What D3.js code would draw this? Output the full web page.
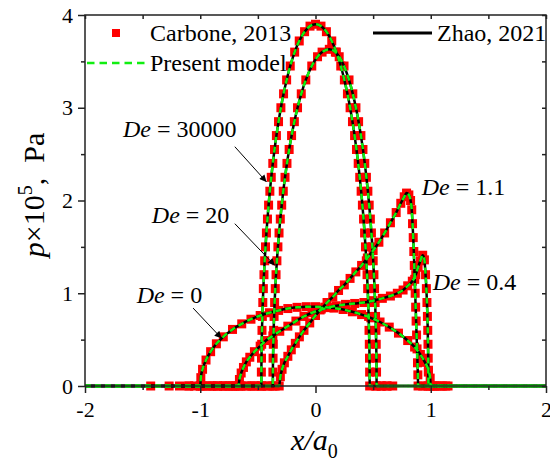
<!DOCTYPE html>
<meta charset="utf-8">
<style>
body { margin: 0; background: #fff; }
svg, svg text { font-family: "Liberation Serif", "Times New Roman", "DejaVu Serif", serif; }
text { white-space: pre; }
.tick line { stroke: #222; stroke-width: 1.5; }
.domain { display: none; }
</style>
<body>
<script src="https://d3js.org/d3.v7.min.js"></script>
<script>

// pressure profiles p(x), one array per Deborah number
// each entry is [x/a0, p x 1e-5 Pa]
var deNames = ["0", "0.4", "1.1", "20", "30000"];

var de0 = [[-1.43,0],[-1.27,0],[-1.18,0],[-1.1,0],[-1.05,0],[-1.0,0],[-0.995,0.09],[-0.98,0.18],
  [-0.95,0.28],[-0.91,0.37],[-0.86,0.455],[-0.80,0.53],[-0.72,0.61],[-0.64,0.67],[-0.56,0.72],
  [-0.48,0.76],[-0.40,0.79],[-0.32,0.815],[-0.24,0.835],[-0.16,0.848],[-0.08,0.855],[0,0.855],
  [0.08,0.85],[0.16,0.84],[0.24,0.825],[0.32,0.80],[0.40,0.77],[0.48,0.735],[0.56,0.69],
  [0.64,0.635],[0.72,0.57],[0.80,0.49],[0.86,0.42],[0.91,0.34],[0.95,0.255],[0.98,0.17],
  [0.995,0.085],[1.0,0],[1.05,0],[1.1,0],[1.15,0]];

var de04 = [[-1.1,0],[-1.0,0],[-0.92,0],[-0.85,0],[-0.78,0],[-0.72,0],[-0.67,0],[-0.66,0.07],
  [-0.645,0.14],[-0.625,0.2],[-0.6,0.26],[-0.57,0.31],[-0.53,0.37],[-0.48,0.43],[-0.43,0.49],
  [-0.37,0.54],[-0.31,0.59],[-0.24,0.645],[-0.17,0.70],[-0.10,0.75],[-0.03,0.79],[0.04,0.82],
  [0.11,0.845],[0.18,0.865],[0.26,0.88],[0.34,0.89],[0.42,0.90],[0.50,0.92],[0.58,0.945],
  [0.65,0.97],[0.71,1.0],[0.76,1.035],[0.80,1.08],[0.84,1.13],[0.87,1.2],[0.89,1.28],
  [0.91,1.35],[0.93,1.41],[0.945,1.36],[0.955,1.2],[0.962,1.05],[0.967,0.9],[0.971,0.75],
  [0.974,0.6],[0.976,0.45],[0.978,0.3],[0.979,0.15],[0.98,0],[1.03,0],[1.08,0],[1.13,0]];

var de11 = [[-0.98,0],[-0.88,0],[-0.8,0],[-0.72,0],[-0.64,0],[-0.56,0],[-0.48,0],[-0.4,0],
  [-0.35,0],[-0.315,0],[-0.305,0.1],[-0.29,0.18],[-0.27,0.25],[-0.24,0.32],[-0.21,0.39],
  [-0.175,0.46],[-0.14,0.53],[-0.10,0.6],[-0.05,0.68],[0,0.76],[0.05,0.83],[0.1,0.9],
  [0.15,0.96],[0.2,1.03],[0.25,1.09],[0.3,1.16],[0.35,1.23],[0.4,1.3],[0.45,1.38],[0.5,1.46],
  [0.55,1.55],[0.6,1.65],[0.65,1.76],[0.7,1.87],[0.74,1.97],[0.77,2.04],[0.79,2.08],
  [0.81,2.06],[0.825,2.0],[0.835,1.9],[0.842,1.75],[0.848,1.6],[0.853,1.45],[0.857,1.3],
  [0.861,1.15],[0.865,1.0],[0.869,0.85],[0.873,0.7],[0.877,0.55],[0.881,0.4],[0.885,0.25],
  [0.888,0.12],[0.89,0],[0.93,0],[0.97,0],[1.02,0]];

var de20 = [[-0.95,0],[-0.85,0],[-0.75,0],[-0.65,0],[-0.55,0],[-0.47,0],[-0.42,0],[-0.37,0],
  [-0.3696,0.15],[-0.3683,0.3],[-0.3662,0.45],[-0.3633,0.6],[-0.3594,0.75],[-0.3547,0.9],
  [-0.3491,1.05],[-0.3424,1.2],[-0.3349,1.35],[-0.3262,1.5],[-0.3165,1.65],[-0.3055,1.8],
  [-0.2933,1.95],[-0.2797,2.1],[-0.2645,2.25],[-0.2476,2.4],[-0.2287,2.55],[-0.2075,2.7],
  [-0.1835,2.85],[-0.1559,3.0],[-0.1235,3.15],[-0.0841,3.3],[-0.0324,3.45],[0.0177,3.55],
  [0.0572,3.6],[0.12,3.63],[0.1726,3.6],[0.2056,3.55],[0.2475,3.45],[0.2908,3.3],[0.3238,3.15],
  [0.3508,3.0],[0.3739,2.85],[0.394,2.7],[0.4118,2.55],[0.4276,2.4],[0.4417,2.25],[0.4544,2.1],
  [0.4658,1.95],[0.476,1.8],[0.4852,1.65],[0.4934,1.5],[0.5006,1.35],[0.5069,1.2],[0.5125,1.05],
  [0.5172,0.9],[0.5212,0.75],[0.5244,0.6],[0.5268,0.45],[0.5286,0.3],[0.5297,0.15],[0.53,0],
  [0.57,0],[0.62,0],[0.67,0]];

var de30000 = [[-0.9,0],[-0.8,0],[-0.7,0],[-0.6,0],[-0.53,0],[-0.47,0],[-0.4697,0.15],
  [-0.4686,0.3],[-0.4669,0.45],[-0.4644,0.6],[-0.4612,0.75],[-0.4573,0.9],[-0.4526,1.05],
  [-0.4472,1.2],[-0.4409,1.35],[-0.4338,1.5],[-0.4259,1.65],[-0.4169,1.8],[-0.407,1.95],
  [-0.396,2.1],[-0.3839,2.25],[-0.3705,2.4],[-0.3556,2.55],[-0.3392,2.7],[-0.3208,2.85],
  [-0.3003,3.0],[-0.2771,3.15],[-0.2505,3.3],[-0.2192,3.45],[-0.1808,3.6],[-0.1411,3.72],
  [-0.0947,3.82],[-0.0476,3.88],[0,3.9],[0.0476,3.88],[0.0947,3.82],[0.1411,3.72],[0.1808,3.6],
  [0.2192,3.45],[0.2505,3.3],[0.2771,3.15],[0.3003,3.0],[0.3208,2.85],[0.3392,2.7],[0.3556,2.55],
  [0.3705,2.4],[0.3839,2.25],[0.396,2.1],[0.407,1.95],[0.4169,1.8],[0.4259,1.65],[0.4338,1.5],
  [0.4409,1.35],[0.4472,1.2],[0.4526,1.05],[0.4573,0.9],[0.4612,0.75],[0.4644,0.6],[0.4669,0.45],
  [0.4686,0.3],[0.4697,0.15],[0.47,0],[0.52,0],[0.57,0],[0.62,0]];

var profiles = [de0, de04, de11, de20, de30000];

// axis ticks
var xTicks = [-2, -1, 0, 1, 2];
var xMinor = [-1.5, -0.5, 0.5, 1.5];
var yTicks = [0, 1, 2, 3, 4];
var yMinor = [0.5, 1.5, 2.5, 3.5];

var legendNames = ["Carbone, 2013", "Present model", "Zhao, 2021"];

var serif = "Liberation Serif, Times New Roman, DejaVu Serif, serif";
var green = "#11ee11";

// plot box
var W = 550, H = 463;
var margin = {top: 15, right: 4, bottom: 77, left: 85},
    width = W - margin.left - margin.right,
    height = H - margin.top - margin.bottom;

var x = d3.scaleLinear().domain([-2, 2]).range([0, width]);
var y = d3.scaleLinear().domain([0, 4]).range([height, 0]);

var svg = d3.select("body").append("svg")
    .attr("width", W).attr("height", H)
    .attr("font-family", serif);

var defs = svg.append("defs");
defs.append("marker")
    .attr("id", "arrow")
    .attr("viewBox", "0 0 10 10")
    .attr("refX", 10).attr("refY", 5)
    .attr("markerWidth", 11).attr("markerHeight", 7)
    .attr("markerUnits", "userSpaceOnUse")
    .attr("orient", "auto")
  .append("path")
    .attr("d", "M0,0L10,5L0,10z")
    .attr("fill", "#000");

var g = svg.append("g")
    .attr("transform", "translate(" + margin.left + "," + margin.top + ")");

// Carbone markers
profiles.forEach(function(prof) {
  g.append("g").selectAll("rect")
    .data(prof)
    .join("rect")
      .attr("x", function(d) { return x(d[0]) - 4.5; })
      .attr("y", function(d) { return y(d[1]) - 4.5; })
      .attr("width", 9).attr("height", 9)
      .attr("fill", "#ff0000");
});

var line = d3.line()
    .x(function(d) { return x(d[0]); })
    .y(function(d) { return y(d[1]); })
    .curve(d3.curveMonotoneX);

function padded(prof) {
  return [[x.domain()[0], 0]].concat(prof, [[x.domain()[1], 0]]);
}

// Zhao, 2021
profiles.forEach(function(prof) {
  g.append("path")
    .datum(padded(prof))
    .attr("d", line)
    .attr("fill", "none")
    .attr("stroke", "#000")
    .attr("stroke-width", 2.5);
});

// present model
profiles.forEach(function(prof) {
  g.append("path")
    .datum(padded(prof))
    .attr("d", line)
    .attr("fill", "none")
    .attr("stroke", green)
    .attr("stroke-width", 2.5)
    .attr("stroke-dasharray", "6,4");
});

// frame
g.append("rect")
    .attr("width", width).attr("height", height)
    .attr("fill", "none")
    .attr("stroke", "#222")
    .attr("stroke-width", 1.5);

// axes: outward ticks bottom/left, inward mirrored ticks top/right
var fmt = function(d) { return String(d); };

var xAx = g.append("g").attr("class", "axis")
    .attr("transform", "translate(0," + height + ")")
    .call(d3.axisBottom(x).tickValues(xTicks).tickFormat(fmt).tickSize(7).tickSizeOuter(0));
xAx.attr("font-family", serif);
xAx.selectAll("text")
    .attr("y", 31).attr("dy", null)
    .attr("font-size", 22).attr("fill", "#000");
g.append("g").attr("transform", "translate(0," + height + ")")
    .call(d3.axisBottom(x).tickValues(xMinor).tickFormat("").tickSize(4).tickSizeOuter(0));

var yAx = g.append("g").attr("class", "axis")
    .call(d3.axisLeft(y).tickValues(yTicks).tickFormat(fmt).tickSize(7).tickSizeOuter(0).tickPadding(5));
yAx.attr("font-family", serif);
yAx.selectAll("text")
    .attr("font-size", 22).attr("fill", "#000");
g.append("g")
    .call(d3.axisLeft(y).tickValues(yMinor).tickFormat("").tickSize(4).tickSizeOuter(0));

g.append("g")
    .call(d3.axisTop(x).tickValues(xTicks.concat(xMinor)).tickFormat("").tickSize(-4).tickSizeOuter(0));
g.append("g").attr("transform", "translate(" + width + ",0)")
    .call(d3.axisRight(y).tickValues(yTicks.concat(yMinor)).tickFormat("").tickSize(-4).tickSizeOuter(0));

// De annotations
function deText(name, xv, pv) {
  var t = g.append("text")
      .attr("x", x(xv)).attr("y", y(pv))
      .attr("font-size", 24).attr("fill", "#000");
  t.append("tspan").attr("font-style", "italic").text("De");
  t.append("tspan").text(" = " + name);
}
function arrow(x0, p0, x1, p1) {
  g.append("line")
      .attr("x1", x(x0)).attr("y1", y(p0))
      .attr("x2", x(x1)).attr("y2", y(p1))
      .attr("stroke", "#000").attr("stroke-width", 1)
      .attr("marker-end", "url(#arrow)");
}

deText(deNames[4], -1.67, 2.685);
arrow(-0.70, 2.58, -0.425, 2.2);
deText(deNames[3], -1.42, 1.757);
arrow(-0.70, 1.75, -0.353, 1.30);
deText(deNames[0], -1.552, 0.895);
arrow(-1.062, 0.84, -0.815, 0.514);
deText(deNames[2], 0.922, 2.06);
deText(deNames[1], 1.017, 1.035);

// legend
var lg = svg.append("g").attr("font-size", 24);
lg.append("rect").attr("x", 112).attr("y", 29).attr("width", 8).attr("height", 8).attr("fill", "#ff0000");
lg.append("text").attr("x", 150).attr("y", 41).text(legendNames[0]);
lg.append("line").attr("x1", 87).attr("x2", 145).attr("y1", 63).attr("y2", 63)
    .attr("stroke", green).attr("stroke-width", 2.7).attr("stroke-dasharray", "7.5,5");
lg.append("text").attr("x", 150).attr("y", 71).text(legendNames[1]);
lg.append("line").attr("x1", 373).attr("x2", 432).attr("y1", 33).attr("y2", 33)
    .attr("stroke", "#000").attr("stroke-width", 3);
lg.append("text").attr("x", 437).attr("y", 41).text(legendNames[2]);

// axis titles
var xt = svg.append("text")
    .attr("x", 291).attr("y", 450)
    .attr("font-size", 30);
xt.append("tspan").attr("font-style", "italic").text("x/a");
xt.append("tspan").attr("font-size", 20).attr("dy", 8).text("0");

var yt = svg.append("text")
    .attr("transform", "translate(44,195) rotate(-90)")
    .attr("text-anchor", "middle")
    .attr("font-size", 30);
yt.append("tspan").attr("font-style", "italic").text("p");
yt.append("tspan").text("\u00d710");
yt.append("tspan").attr("font-size", 20).attr("dy", -12).text("5");
yt.append("tspan").attr("dy", 12).text(",  Pa");

</script>
</body>
